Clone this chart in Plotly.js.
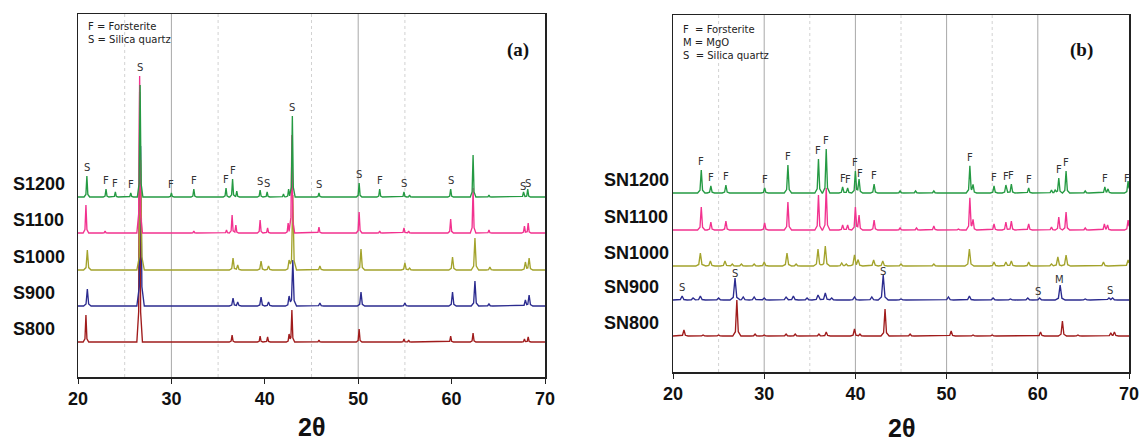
<!DOCTYPE html>
<html>
<head>
<meta charset="utf-8">
<script src="https://cdn.plot.ly/plotly-3.0.1.min.js"></script>
<style>html,body{margin:0;padding:0;background:#fff;}#chart{width:1142px;height:446px;}</style>
</head>
<body>
<div id="chart"></div>
<script>
// ---------- DATA (2θ positions and peak intensities) ----------
const seriesNamesA = ['S800', 'S900', 'S1000', 'S1100', 'S1200'];
const offsetsA = [35, 71, 107, 144, 180];

const s800Pos = [20.85, 26.6, 36.5, 39.5, 40.3, 42.6, 42.9, 45.8, 50.1, 54.9, 55.4, 59.9, 62.3, 67.8, 68.2];
const s800Int = [27, 250, 7, 6, 5, 8, 32, 2, 13, 3, 2, 6, 9, 3, 5];
const s900Pos = [21.0, 26.7, 36.6, 37.1, 39.6, 40.4, 42.6, 43.0, 45.9, 50.3, 55.0, 60.1, 62.5, 64.0, 67.9, 68.3];
const s900Int = [17, 160, 8, 4, 9, 4, 10, 46, 3, 14, 3, 14, 25, 2, 6, 11];
const s1000Pos = [21.0, 26.7, 36.6, 37.1, 39.6, 40.4, 42.6, 43.0, 45.9, 50.3, 55.0, 55.5, 60.1, 62.5, 64.1, 67.9, 68.3];
const s1000Int = [20, 110, 12, 5, 9, 4, 10, 75, 4, 21, 7, 2, 13, 32, 3, 8, 12];
const s1100Pos = [20.85, 22.9, 26.6, 32.4, 35.9, 36.5, 36.9, 39.5, 40.3, 42.5, 42.9, 45.8, 50.1, 52.3, 54.9, 55.4, 59.9, 62.3, 64.0, 67.8, 68.2];
const s1100Int = [28, 2, 157, 2, 3, 18, 8, 13, 5, 10, 98, 6, 21, 2, 5, 2, 14, 45, 3, 7, 10];
const s1200Pos = [20.95, 23.0, 24.0, 25.65, 26.65, 30.0, 32.4, 35.85, 36.55, 37.0, 39.5, 40.25, 42.0, 42.55, 42.95, 45.8, 50.1, 52.3, 54.9, 55.5, 59.9, 62.3, 64.0, 67.7, 68.15];
const s1200Int = [21, 8, 5, 4, 112, 4, 8, 9, 18, 6, 7, 5, 3, 8, 81, 4, 14, 8, 5, 2, 8, 42, 2, 5, 8];

const seriesNamesB = ['SN800', 'SN900', 'SN1000', 'SN1100', 'SN1200'];
const offsetsB = [36, 72, 106, 142, 179];

const sn800Pos = [21.2, 23.3, 25.0, 27.0, 29.0, 30.0, 32.4, 33.4, 36.0, 36.8, 39.9, 40.5, 43.25, 46.0, 50.5, 52.9, 55.0, 60.3, 62.7, 64.4, 68.0, 68.4];
const sn800Int = [6, 1, 1, 36, 2, 1, 2, 2, 2, 4, 7, 2, 27, 2, 5, 1, 1, 4, 15, 1, 3, 4];
const sn900Pos = [21.0, 22.2, 23.0, 25.0, 26.8, 27.7, 28.9, 30.0, 32.4, 33.2, 34.7, 35.9, 36.7, 37.4, 39.9, 41.8, 43.05, 45.0, 50.2, 52.5, 55.1, 57.0, 58.9, 60.2, 62.45, 65.2, 67.8, 68.2];
const sn900Int = [4, 2, 4, 2, 22, 3, 3, 2, 3, 4, 2, 5, 7, 2, 3, 3, 25, 1, 3, 4, 2, 1, 2, 2, 15, 1, 2, 2];
const sn1000Pos = [23.0, 24.1, 25.7, 26.5, 27.5, 28.9, 30.0, 32.5, 33.5, 35.9, 36.7, 38.5, 39.0, 39.9, 40.3, 42.0, 43.0, 45.0, 48.6, 52.5, 55.2, 56.5, 57.1, 59.0, 61.5, 62.2, 63.1, 67.2, 69.9];
const sn1000Int = [13, 5, 5, 2, 2, 2, 4, 13, 2, 17, 20, 3, 2, 11, 6, 6, 5, 2, 2, 17, 4, 4, 5, 4, 2, 9, 11, 4, 6];
const sn1100Pos = [23.1, 24.15, 25.8, 30.05, 32.6, 35.95, 36.8, 38.6, 39.15, 40.0, 40.4, 42.05, 44.9, 46.7, 48.6, 51.3, 52.55, 52.9, 55.2, 56.5, 57.1, 59.0, 61.5, 62.3, 63.1, 65.2, 67.3, 67.65, 69.9];
const sn1100Int = [23, 8, 9, 7, 28, 35, 42, 5, 5, 23, 15, 10, 2, 2, 4, 1, 32, 10, 6, 8, 9, 6, 3, 13, 18, 2, 6, 5, 10];
const sn1200Pos = [23.1, 24.15, 25.8, 30.05, 32.6, 35.95, 36.8, 38.6, 39.15, 40.0, 40.4, 42.05, 44.9, 46.6, 48.6, 52.55, 52.9, 55.2, 56.5, 57.1, 59.0, 61.5, 61.9, 62.3, 63.1, 65.2, 67.35, 67.7, 69.9];
const sn1200Int = [23, 7, 8, 5, 28, 34, 44, 6, 5, 22, 14, 9, 2, 2, 2, 27, 8, 7, 8, 9, 5, 3, 3, 15, 22, 2, 6, 4, 12];

// Phase labels: [2θ, letter, labelled series index]
const labelsA = [[20.95,'S',4],[23.0,'F',4],[24.0,'F',4],[25.65,'F',4],[26.6,'S',4],[30.0,'F',4],[32.4,'F',4],[35.85,'F',4],[36.55,'F',4],[39.5,'S',4],[40.25,'S',4],[42.95,'S',4],[45.8,'S',4],[50.1,'S',4],[52.3,'F',4],[54.9,'S',4],[59.9,'S',4],[67.6,'S',4],[68.2,'S',4]];
const labelsB = [[23.1,'F',4],[24.15,'F',4],[25.8,'F',4],[30.05,'F',4],[32.6,'F',4],[35.95,'F',4],[36.8,'F',4],[38.6,'F',4],[39.15,'F',4],[40.0,'F',4],[40.45,'F',4],[42.05,'F',4],[52.55,'F',4],[55.2,'F',4],[56.5,'F',4],[57.1,'F',4],[59.0,'F',4],[62.3,'F',4],[63.1,'F',4],[67.35,'F',4],[69.8,'F',4],
  [21.0,'S',1],[26.85,'S',1],[43.0,'S',1],[60.0,'S',1],[62.4,'M',1],[67.9,'S',1]];

const tickVals = [20, 30, 40, 50, 60, 70];
const gridSolidA = [30, 50], gridDotA = [25, 35, 45, 55];
const gridSolidB = [30, 40, 50, 60], gridDotB = [25, 35, 45, 55];

// ---------- BUILD ----------
const W = 1142, H = 446;
const px = x => x / W, py = y => 1 - y / H;
const colors = ['#a01c1c', '#2b2b8f', '#a3a32c', '#f2328f', '#259a43'];
const widthsA = [0.3, 0.4, 0.4, 0.3, 0.3];
const widthsB = [0.45, 0.55, 0.5, 0.4, 0.4];

function shape(d, w) { // piecewise-linear peak profile, 0..1
  const a = Math.abs(d);
  if (a >= w) return 0;
  const k = 0.35 * w;
  if (a <= k) return 1 - (1 - 0.12) * a / k;
  return 0.12 * (w - a) / (w - k);
}
function profile(pos, inten, w, off) {
  let xs = [20, 70];
  pos.forEach(p => { xs.push(p - w, p - 0.35 * w, p, p + 0.35 * w, p + w); });
  xs = xs.filter(x => x >= 20 && x <= 70).sort((a, b) => a - b);
  const ys = xs.map(x => off + pos.reduce((s, p, i) => s + inten[i] * shape(x - p, w), 0));
  return {x: xs, y: ys};
}
const dataA = [[s800Pos, s800Int], [s900Pos, s900Int], [s1000Pos, s1000Int], [s1100Pos, s1100Int], [s1200Pos, s1200Int]];
const dataB = [[sn800Pos, sn800Int], [sn900Pos, sn900Int], [sn1000Pos, sn1000Int], [sn1100Pos, sn1100Int], [sn1200Pos, sn1200Int]];

const traces = [];
dataA.forEach((d, i) => {
  const p = profile(d[0], d[1], widthsA[i], offsetsA[i]);
  traces.push({x: p.x, y: p.y, xaxis: 'x', yaxis: 'y', type: 'scatter', mode: 'lines', name: seriesNamesA[i],
    line: {color: colors[i], width: 1.35}, hoverinfo: 'skip'});
});
dataB.forEach((d, i) => {
  const p = profile(d[0], d[1], widthsB[i], offsetsB[i]);
  traces.push({x: p.x, y: p.y, xaxis: 'x2', yaxis: 'y2', type: 'scatter', mode: 'lines', name: seriesNamesB[i],
    line: {color: colors[i], width: 1.35}, hoverinfo: 'skip'});
});

function topAt(x, data, offs, widths, maxIdx) {
  let best = 0;
  for (let s = 0; s <= maxIdx; s++) {
    const v = offs[s] + data[s][0].reduce((acc, p, i) => acc + data[s][1][i] * shape(x - p, widths[s] * 1.2), 0);
    if (v > best) best = v;
  }
  return best;
}

const annotations = [];
const labelFont = {family: 'DejaVu Sans', size: 10, color: '#333'};
labelsA.forEach(l => {
  annotations.push({xref: 'x', yref: 'y', x: l[0], y: topAt(l[0], dataA, offsetsA, widthsA, l[2]) + 1,
    text: l[1], showarrow: false, yanchor: 'bottom', xanchor: 'center', font: labelFont});
});
labelsB.forEach(l => {
  annotations.push({xref: 'x2', yref: 'y2', x: l[0], y: topAt(l[0], dataB, offsetsB, widthsB, l[2]) + 1,
    text: l[1], showarrow: false, yanchor: 'bottom', xanchor: 'center', font: labelFont});
});
const catFont = {family: 'Liberation Sans', size: 18, color: '#111', weight: 'bold'};
seriesNamesA.forEach((n, i) => annotations.push({xref: 'paper', yref: 'y', x: px(11), y: offsetsA[i] + 13,
  text: '<b>' + n + '</b>', showarrow: false, xanchor: 'left', yanchor: 'middle', font: catFont}));
seriesNamesB.forEach((n, i) => annotations.push({xref: 'paper', yref: 'y2', x: px(602), y: offsetsB[i] + 13,
  text: '<b>' + n + '</b>', showarrow: false, xanchor: 'left', yanchor: 'middle', font: catFont}));

const legFont = {family: 'DejaVu Sans', size: 10, color: '#222'};
annotations.push({xref: 'paper', yref: 'paper', x: px(86), y: py(19), text: 'F = Forsterite<br>S = Silica quartz',
  showarrow: false, xanchor: 'left', yanchor: 'top', align: 'left', font: legFont});
annotations.push({xref: 'paper', yref: 'paper', x: px(681), y: py(22), text: 'F  = Forsterite<br>M = MgO<br>S  = Silica quartz',
  showarrow: false, xanchor: 'left', yanchor: 'top', align: 'left', font: legFont});
const panelFont = {family: 'Liberation Serif', size: 19, color: '#111'};
annotations.push({xref: 'paper', yref: 'paper', x: px(518), y: py(50), text: '<b>(a)</b>', showarrow: false,
  xanchor: 'center', yanchor: 'middle', font: panelFont});
annotations.push({xref: 'paper', yref: 'paper', x: px(1081), y: py(50), text: '<b>(b)</b>', showarrow: false,
  xanchor: 'center', yanchor: 'middle', font: panelFont});
const axTitleFont = {family: 'Liberation Sans', size: 25, color: '#111'};
annotations.push({xref: 'paper', yref: 'paper', x: px(311), y: py(427), text: '<b>2θ</b>', showarrow: false,
  xanchor: 'center', yanchor: 'middle', font: axTitleFont});
annotations.push({xref: 'paper', yref: 'paper', x: px(901), y: py(428), text: '<b>2θ</b>', showarrow: false,
  xanchor: 'center', yanchor: 'middle', font: axTitleFont});

const shapes = [];
function grid(vals, xref, yref, dash, color) {
  vals.forEach(v => shapes.push({type: 'line', xref: xref, yref: yref + ' domain', x0: v, x1: v, y0: 0, y1: 1,
    line: {color: color, width: 1, dash: dash}, layer: 'below'}));
}
grid(gridSolidA, 'x', 'y', 'solid', '#a8a8a8');
grid(gridDotA, 'x', 'y', 'dot', '#d2d2d2');
grid(gridSolidB, 'x2', 'y2', 'solid', '#a8a8a8');
grid(gridDotB, 'x2', 'y2', 'dot', '#d2d2d2');

const tickFont = {family: 'Liberation Sans', size: 18, color: '#111', weight: 'bold'};
const xBase = {range: [20, 70], tickvals: tickVals, ticktext: tickVals.map(v => '<b>' + v + '</b>'), ticks: 'outside', ticklen: 5,
  tickcolor: '#222', showline: true, linecolor: '#222', linewidth: 1.5, mirror: true, showgrid: false,
  zeroline: false, tickfont: tickFont, fixedrange: true};
const yBase = {showticklabels: false, ticks: '', showline: true, linecolor: '#222', linewidth: 1.5, mirror: true,
  showgrid: false, zeroline: false, fixedrange: true};

const layout = {
  width: W, height: H, margin: {l: 0, r: 0, t: 0, b: 0}, paper_bgcolor: '#fff', plot_bgcolor: '#fff',
  showlegend: false,
  xaxis: Object.assign({}, xBase, {domain: [px(78), px(545)], anchor: 'y'}),
  yaxis: Object.assign({}, yBase, {domain: [py(377), py(14)], range: [0, 363], anchor: 'x'}),
  xaxis2: Object.assign({}, xBase, {domain: [px(673), px(1129)], anchor: 'y2'}),
  yaxis2: Object.assign({}, yBase, {domain: [py(372), py(15)], range: [0, 357], anchor: 'x2'}),
  annotations: annotations, shapes: shapes
};
Plotly.newPlot('chart', traces, layout, {displayModeBar: false, staticPlot: true});
</script>
</body>
</html>
